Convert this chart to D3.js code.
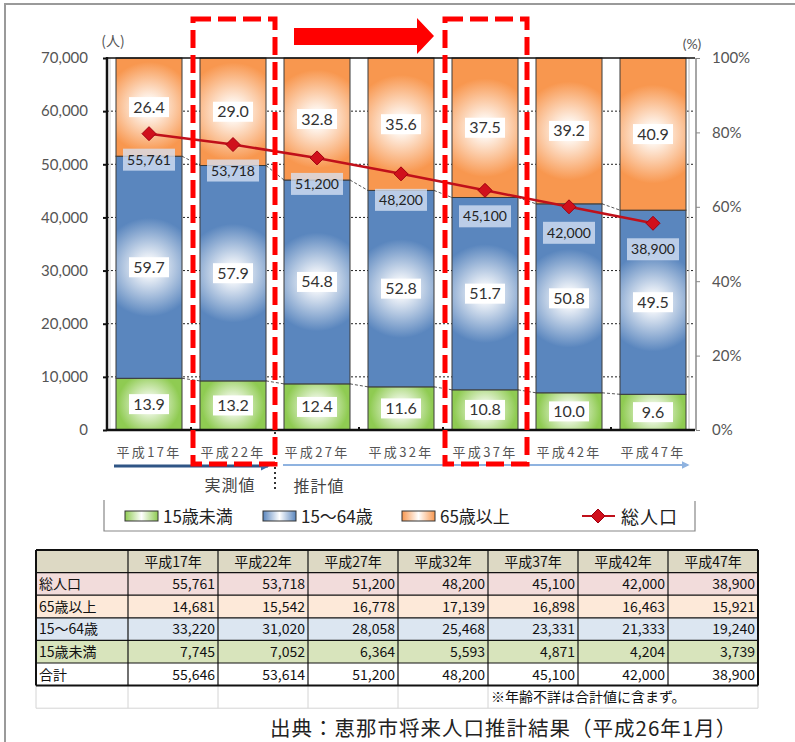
<!DOCTYPE html>
<html><head><meta charset="utf-8">
<script src="https://cdn.jsdelivr.net/npm/d3@7"></script>
<style>body{margin:0;background:#fff}svg{display:block}</style>
</head><body><svg id="c" width="795" height="742"></svg>
<script>
// ---------- data ----------
const categories = ["平成17年","平成22年","平成27年","平成32年","平成37年","平成42年","平成47年"];
const pctUnder15 = [13.9,13.2,12.4,11.6,10.8,10.0,9.6];
const pct15to64  = [59.7,57.9,54.8,52.8,51.7,50.8,49.5];
const pct65over  = [26.4,29.0,32.8,35.6,37.5,39.2,40.9];
const totalPop   = [55761,53718,51200,48200,45100,42000,38900];
const leftTicks  = [0,10000,20000,30000,40000,50000,60000,70000];
const rightTicks = [0,20,40,60,80,100];
const seriesNames = ["15歳未満","15～64歳","65歳以上"];
const lineName = "総人口";
const tableHeader = ["平成17年","平成22年","平成27年","平成32年","平成37年","平成42年","平成47年"];
const tblTotal   = [55761,53718,51200,48200,45100,42000,38900];
const tbl65      = [14681,15542,16778,17139,16898,16463,15921];
const tbl1564    = [33220,31020,28058,25468,23331,21333,19240];
const tblUnder15 = [7745,7052,6364,5593,4871,4204,3739];
const tblSum     = [55646,53614,51200,48200,45100,42000,38900];
const tableNote = "※年齢不詳は合計値に含まず。";
const sourceText = "出典：恵那市将来人口推計結果（平成26年1月）";

// ---------- setup ----------
const svg = d3.select("#c");
const FONT = "Lato, 'DejaVu Sans', sans-serif";
const JP = "'Noto Sans CJK JP', sans-serif";
const L = 107, R = 695, T = 58, B = 430;

const x = d3.scaleBand().domain(categories).range([L, R]).paddingInner(18/84).paddingOuter(9/84);
const yL = d3.scaleLinear().domain([0, 70000]).range([B, T]);
const yR = d3.scaleLinear().domain([0, 100]).range([B, T]);
const bw = x.bandwidth();

// outer frame
svg.append("path").attr("d", "M5,742 V4 H795").attr("fill", "none").attr("stroke", "#9a9a9a").attr("stroke-width", 2);

// gradients
const defs = svg.append("defs");
const colors = ["#8fcb52", "#5a86be", "#f8974f"];
const mkLegendGrad = (id, c) => {
  const g = defs.append("linearGradient").attr("id", id).attr("x1", 0).attr("x2", 1);
  g.append("stop").attr("offset", "0").attr("stop-color", c);
  g.append("stop").attr("offset", "0.5").attr("stop-color", "#ffffff");
  g.append("stop").attr("offset", "1").attr("stop-color", c);
};
colors.forEach((c, i) => mkLegendGrad("lg" + (i + 1), c));

// gridlines
svg.append("g").selectAll("line").data(leftTicks.filter(d => d > 0 && d < 70000)).join("line")
  .attr("x1", L).attr("x2", R).attr("y1", d => yL(d)).attr("y2", d => yL(d))
  .attr("stroke", "#222").attr("stroke-width", 1).attr("stroke-dasharray", "2,2");

// plot frame pieces
svg.append("line").attr("x1", R - 6).attr("x2", R - 6).attr("y1", T).attr("y2", B).attr("stroke", "#bbb").attr("stroke-width", 1);
svg.append("line").attr("x1", L + 3).attr("x2", L + 3).attr("y1", T).attr("y2", B).attr("stroke", "#ccc").attr("stroke-width", 1);

// stacked bars
const stackData = categories.map((c, i) => ({ cat: c, a: pctUnder15[i], b: pct15to64[i], c: pct65over[i] }));
const stack = d3.stack().keys(["a", "b", "c"])(stackData);
const gBars = svg.append("g");
stack.forEach((layer, li) => {
  layer.forEach((d, di) => {
    const x0 = x(d.data.cat), y0 = yR(Math.min(d[1], 100)), h = yR(d[0]) - y0;
    const id = `rg${li}_${di}`;
    const r = Math.min(58, Math.max(h, bw) / 2 + 4);
    const g = defs.append("radialGradient").attr("id", id).attr("gradientUnits", "userSpaceOnUse")
      .attr("cx", x0 + bw / 2).attr("cy", y0 + h / 2).attr("r", r);
    const c = colors[li];
    g.append("stop").attr("offset", "0").attr("stop-color", "#ffffff");
    g.append("stop").attr("offset", "0.18").attr("stop-color", d3.interpolateRgb("#ffffff", c)(0.12));
    g.append("stop").attr("offset", "0.85").attr("stop-color", c);
    g.append("stop").attr("offset", "1").attr("stop-color", c);
    gBars.append("rect").attr("x", x0).attr("width", bw).attr("y", y0).attr("height", h)
      .attr("fill", `url(#${id})`).attr("stroke", "#3a3a3a").attr("stroke-width", 1);
  });
});

// series lines
const gSer = svg.append("g");
[0, 1].forEach(li => {
  for (let i = 0; i < categories.length - 1; i++) {
    gSer.append("line")
      .attr("x1", x(categories[i]) + bw).attr("x2", x(categories[i + 1]))
      .attr("y1", yR(Math.min(stack[li][i][1], 100))).attr("y2", yR(Math.min(stack[li][i + 1][1], 100)))
      .attr("stroke", "#444").attr("stroke-width", 0.9).attr("stroke-dasharray", "3,2");
  }
});

// axes lines
svg.append("line").attr("x1", L).attr("x2", R).attr("y1", T).attr("y2", T).attr("stroke", "#111").attr("stroke-width", 1.5);
svg.append("line").attr("x1", L).attr("x2", R).attr("y1", B).attr("y2", B).attr("stroke", "#111").attr("stroke-width", 2.5);
svg.append("line").attr("x1", L).attr("x2", L).attr("y1", T - 1).attr("y2", B + 1).attr("stroke", "#111").attr("stroke-width", 2.5);
svg.append("line").attr("x1", R + 1).attr("x2", R + 1).attr("y1", T).attr("y2", B).attr("stroke", "#888").attr("stroke-width", 1.5);

// left axis
const axL = svg.append("g").attr("transform", `translate(${L},0)`)
  .call(d3.axisLeft(yL).tickValues(leftTicks).tickSize(4).tickPadding(15).tickFormat(d => d === 0 ? "0" : d3.format(",")(d)));
axL.select(".domain").remove();
axL.selectAll("line").attr("stroke", "#111").attr("stroke-width", 2);
axL.selectAll("text").attr("font-family", FONT).attr("font-size", 15).attr("fill", "#555");

// right axis
const axR = svg.append("g").attr("transform", `translate(${R + 1},0)`)
  .call(d3.axisRight(yR).tickValues(rightTicks).tickSize(4).tickPadding(12).tickFormat(d => d + "%"));
axR.select(".domain").remove();
axR.selectAll("line").attr("stroke", "#888");
axR.selectAll("text").attr("font-family", FONT).attr("font-size", 15).attr("fill", "#555");

svg.append("text").attr("x", 113).attr("y", 46).attr("text-anchor", "middle").attr("font-family", JP)
  .attr("font-size", 14).attr("fill", "#555").text("(人)");
svg.append("text").attr("x", 692).attr("y", 49).attr("text-anchor", "middle").attr("font-family", FONT)
  .attr("font-size", 14).attr("fill", "#555").text("(%)");

// category axis
svg.append("g").selectAll("line").data(categories.slice(1)).join("line")
  .attr("x1", d => x(d) - (x.step() - bw) / 2).attr("x2", d => x(d) - (x.step() - bw) / 2)
  .attr("y1", B).attr("y2", B - 3).attr("stroke", "#111").attr("stroke-width", 2);
svg.append("g").selectAll("text").data(categories).join("text")
  .attr("x", d => x(d) + bw / 2).attr("y", 457).attr("text-anchor", "middle")
  .attr("font-family", JP).attr("font-size", 13).attr("letter-spacing", 2.3).attr("fill", "#555").text(d => d);

// percent labels
const gLab = svg.append("g");
stack.forEach((layer, li) => {
  layer.forEach(d => {
    const cx = x(d.data.cat) + bw / 2, cy = yR((d[0] + Math.min(d[1], 100)) / 2);
    gLab.append("rect").attr("x", cx - 20).attr("y", cy - 10).attr("width", 40).attr("height", 20).attr("fill", "#fff");
    gLab.append("text").attr("x", cx).attr("y", cy + 5.5).attr("text-anchor", "middle")
      .attr("font-family", FONT).attr("font-size", 16).attr("fill", "#333").text(d3.format(".1f")(d[1] - d[0]));
  });
});

// total population line
const line = d3.line().x((d, i) => x(categories[i]) + bw / 2).y(d => yL(d));
svg.append("path").datum(totalPop).attr("d", line).attr("fill", "none").attr("stroke", "#c0101a").attr("stroke-width", 2.5);
const diamond = "M0,-7L7,0L0,7L-7,0Z";
svg.append("g").selectAll("path").data(totalPop).join("path")
  .attr("transform", (d, i) => `translate(${x(categories[i]) + bw / 2},${yL(d)})`)
  .attr("d", diamond).attr("fill", "#d0101c").attr("stroke", "#a00010").attr("stroke-width", 1);

// total labels
const gTot = svg.append("g");
totalPop.forEach((v, i) => {
  const cx = x(categories[i]) + bw / 2, cy = yL(v) + 26;
  gTot.append("rect").attr("x", cx - 26).attr("y", cy - 11).attr("width", 52).attr("height", 22)
    .attr("fill", "rgb(214,226,244)").attr("fill-opacity", 0.78);
  gTot.append("text").attr("x", cx).attr("y", cy + 5).attr("text-anchor", "middle")
    .attr("font-family", FONT).attr("font-size", 14).attr("fill", "#222").text(d3.format(",")(v));
});

// measured / estimated arrows
const split = x(categories[2]) - (x.step() - bw) / 2;
const ar = defs.append("marker").attr("id", "ah1").attr("viewBox", "0 0 10 10").attr("refX", 8).attr("refY", 5)
  .attr("markerWidth", 3).attr("markerHeight", 3).attr("orient", "auto");
ar.append("path").attr("d", "M0,0L10,5L0,10Z").attr("fill", "#3c6ea8");
const ar2 = defs.append("marker").attr("id", "ah2").attr("viewBox", "0 0 10 10").attr("refX", 8).attr("refY", 5)
  .attr("markerWidth", 4).attr("markerHeight", 4).attr("orient", "auto");
ar2.append("path").attr("d", "M0,0L10,5L0,10Z").attr("fill", "#8fb3e0");
svg.append("line").attr("x1", x(categories[0]) - 2).attr("x2", split - 7).attr("y1", 466).attr("y2", 466)
  .attr("stroke", "#2f5585").attr("stroke-width", 3).attr("marker-end", "url(#ah1)");
svg.append("line").attr("x1", split + 8).attr("x2", x(categories[6]) + bw + 2).attr("y1", 465).attr("y2", 465)
  .attr("stroke", "#8fb3e0").attr("stroke-width", 2).attr("marker-end", "url(#ah2)");
svg.append("line").attr("x1", split).attr("x2", split).attr("y1", 432).attr("y2", 492)
  .attr("stroke", "#333").attr("stroke-width", 2).attr("stroke-dasharray", "2,3");
svg.append("text").attr("x", split - 45).attr("y", 491).attr("text-anchor", "middle").attr("font-family", JP)
  .attr("font-size", 16).attr("letter-spacing", 1).attr("fill", "#444").text("実測値");
svg.append("text").attr("x", split + 44).attr("y", 492).attr("text-anchor", "middle").attr("font-family", JP)
  .attr("font-size", 16).attr("letter-spacing", 1).attr("fill", "#444").text("推計値");

// legend
svg.append("path").attr("d", `M104,500 V531 H695 V501`).attr("fill", "none").attr("stroke", "#888").attr("stroke-width", 1.2);
const legX = [125, 263, 402];
seriesNames.forEach((n, i) => {
  svg.append("rect").attr("x", legX[i]).attr("y", 511).attr("width", 33).attr("height", 10)
    .attr("fill", "url(#lg" + (i + 1) + ")").attr("stroke", "#333").attr("stroke-width", 1);
  svg.append("text").attr("x", legX[i] + 38).attr("y", 523).attr("font-family", JP).attr("font-size", 17)
    .attr("fill", "#222").text(n);
});
svg.append("line").attr("x1", 582).attr("x2", 615).attr("y1", 516).attr("y2", 516).attr("stroke", "#c0101a").attr("stroke-width", 2);
svg.append("path").attr("transform", "translate(598,516)").attr("d", diamond).attr("fill", "#d0101c").attr("stroke", "#a00010");
svg.append("text").attr("x", 621).attr("y", 524).attr("font-family", JP).attr("font-size", 18).attr("letter-spacing", 1)
  .attr("fill", "#222").text(lineName);

// red dashed highlight boxes and arrow
[categories[1], categories[4]].forEach(c => {
  svg.append("rect").attr("x", x(c) - 7).attr("y", 19).attr("width", bw + 16).attr("height", 445)
    .attr("fill", "none").attr("stroke", "#ff0000").attr("stroke-width", 5).attr("stroke-dasharray", "18,7");
});
const ax0 = x(categories[2]) + 10, ax1 = x(categories[4]) - 18;
svg.append("path").attr("d", `M${ax0},28 H${ax1 - 17} V18 L${ax1},36 L${ax1 - 17},54 V45 H${ax0} Z`).attr("fill", "#ff0000");

// table
const tRows = [
  { label: lineName, vals: tblTotal, fill: "#f2dcdb" },
  { label: seriesNames[2], vals: tbl65, fill: "#fde9d9" },
  { label: seriesNames[1], vals: tbl1564, fill: "#dce6f1" },
  { label: seriesNames[0], vals: tblUnder15, fill: "#d8e4bc" },
  { label: "合計", vals: tblSum, fill: "#ffffff" }
];
const colX = [36, 128, 218, 308, 398, 488, 578, 668, 758];
const rowY = d3.range(8).map(i => 550 + i * 22.6);
const tg = svg.append("g").attr("font-family", JP).attr("font-size", 14).attr("fill", "#111");
tg.append("rect").attr("x", colX[0]).attr("y", rowY[0]).attr("width", colX[8] - colX[0]).attr("height", rowY[1] - rowY[0]).attr("fill", "#ddd9c4");
tRows.forEach((r, ri) => {
  tg.append("rect").attr("x", colX[0]).attr("y", rowY[ri + 1]).attr("width", colX[8] - colX[0]).attr("height", rowY[ri + 2] - rowY[ri + 1]).attr("fill", r.fill);
});
colX.forEach(cx => {
  if (cx > colX[5] && cx < colX[8]) return;
  tg.append("line").attr("x1", cx).attr("x2", cx).attr("y1", rowY[6]).attr("y2", rowY[7]).attr("stroke", "#d4d4d4");
});
tg.append("line").attr("x1", colX[0]).attr("x2", colX[8]).attr("y1", rowY[7]).attr("y2", rowY[7]).attr("stroke", "#d4d4d4");
rowY.slice(0, 7).forEach((y, i) => {
  tg.append("line").attr("x1", colX[0]).attr("x2", colX[8]).attr("y1", y).attr("y2", y)
    .attr("stroke", "#111").attr("stroke-width", i === 0 || i === 6 ? 2 : 1.2);
});
colX.forEach((cx, i) => {
  tg.append("line").attr("x1", cx).attr("x2", cx).attr("y1", rowY[0]).attr("y2", rowY[6])
    .attr("stroke", "#111").attr("stroke-width", i === 0 || i === 8 ? 2 : 1.2);
});
tableHeader.forEach((h, i) => {
  tg.append("text").attr("x", (colX[i + 1] + colX[i + 2]) / 2).attr("y", rowY[0] + 16.5).attr("text-anchor", "middle").text(h);
});
tRows.forEach((r, ri) => {
  tg.append("text").attr("x", colX[0] + 3).attr("y", rowY[ri + 1] + 16.5).text(r.label);
  r.vals.forEach((v, i) => {
    tg.append("text").attr("x", colX[i + 2] - 3).attr("y", rowY[ri + 1] + 16.5).attr("text-anchor", "end").text(d3.format(",")(v));
  });
});
tg.append("text").attr("x", colX[5] + 3).attr("y", rowY[6] + 16.5).attr("font-size", 14).text(tableNote);

// source
svg.append("text").attr("x", 270).attr("y", 736).attr("font-family", JP).attr("font-size", 20.5).attr("letter-spacing", 1)
  .attr("fill", "#222").text(sourceText);
</script></body></html>
